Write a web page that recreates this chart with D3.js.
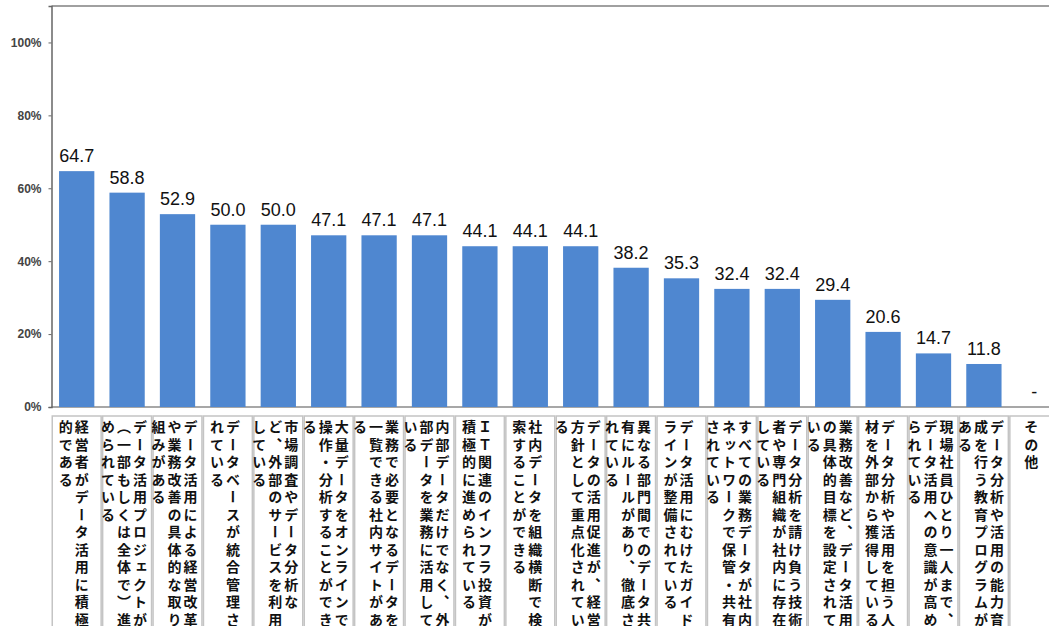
<!DOCTYPE html>
<meta charset="utf-8">
<script src="https://cdn.jsdelivr.net/npm/d3@7"></script>
<style>
body { margin:0; background:#fff; overflow:hidden; }
</style>
<svg width="1049" height="626"></svg>
<script>
// data
var categories = [
    "経営者がデータ活用に積極的である",
    "データ活用プロジェクトが（一部もしくは全体で）進められている",
    "データ活用による経営改革や業務改善の具体的な取り組みがある",
    "データベースが統合管理されている",
    "市場調査やデータ分析など、外部のサービスを利用している",
    "大量データをオンラインで操作・分析することができる",
    "業務で必要となるデータを一覧できる社内サイトがある",
    "内部データだけでなく、外部データを業務に活用している",
    "ＩＴ関連のインフラ投資が積極的に進められている",
    "社内データを組織横断で検索することができる",
    "データの活用促進が、経営方針として重点化されている",
    "異なる部門間でのデータ共有にルールがあり、徹底されている",
    "データ活用にむけたガイドラインが整備されている",
    "すべての業務データが社内ネットワークで保管・共有されている",
    "データ分析を請け負う技術者や専門組織が社内に存在している",
    "業務改善など、データ活用の具体的目標を設定されている",
    "データ分析や活用を担う人材を外部から獲得している",
    "現場社員ひとり一人まで、データ活用への意識が高められている",
    "データ分析や活用の能力育成を行う教育プログラムがある",
    "その他"
];
var values = [64.7, 58.8, 52.9, 50.0, 50.0, 47.1, 47.1, 47.1, 44.1, 44.1,
              44.1, 38.2, 35.3, 32.4, 32.4, 29.4, 20.6, 14.7, 11.8, null];
var yTicks = [0, 20, 40, 60, 80, 100];

var svg = d3.select("svg");
var rows = categories.map(function(c, i) { return { name: c, value: values[i] }; });

var x = d3.scaleBand()
    .domain(categories)
    .range([51.5, 1059.5])
    .paddingInner(0.3)
    .paddingOuter(0.15);
var y = d3.scaleLinear().domain([0, 110]).range([407, 6]);

// frame
svg.append("line")
    .attr("x1", 51.5).attr("x2", 1049).attr("y1", 6).attr("y2", 6)
    .attr("stroke", "#a0a0a0").attr("stroke-width", 2);
svg.append("line")
    .attr("x1", 51.5).attr("x2", 1049).attr("y1", y(0)).attr("y2", y(0))
    .attr("stroke", "#8a8a8a").attr("stroke-width", 1.5);

var yAxis = svg.append("g")
    .attr("transform", "translate(51.5,0)")
    .call(d3.axisLeft(y).tickValues(yTicks).tickSize(3).tickFormat(function(d) { return d + "%"; }));
yAxis.select(".domain").attr("stroke", "#666").attr("stroke-width", 1.5);
yAxis.selectAll(".tick line").attr("stroke", "#666");
yAxis.selectAll(".tick text")
    .attr("x", -10)
    .attr("font-family", "Liberation Sans, Arial, sans-serif")
    .attr("font-size", 12)
    .attr("font-weight", "bold")
    .attr("fill", "#444");

// bars
svg.append("g").selectAll("rect")
    .data(rows.filter(function(d) { return d.value != null; }))
    .enter().append("rect")
    .attr("x", function(d) { return x(d.name); })
    .attr("width", x.bandwidth())
    .attr("y", function(d) { return y(d.value); })
    .attr("height", function(d) { return y(0) - y(d.value); })
    .attr("fill", "#4f87d0");

svg.append("g").selectAll("text")
    .data(rows)
    .enter().append("text")
    .attr("x", function(d) { return x(d.name) + x.bandwidth() / 2; })
    .attr("y", function(d) { return y(d.value == null ? 0 : d.value) - 9; })
    .attr("text-anchor", "middle")
    .attr("font-family", "Liberation Sans, Arial, sans-serif")
    .attr("font-size", 18)
    .attr("fill", "#111")
    .text(function(d) { return d.value == null ? "-" : d3.format(".1f")(d.value); });

// label cells
var step = x.step();
function cellLeft(d) { return x(d.name) - (step - x.bandwidth()) / 2; }

// split a label into vertical columns of 12 chars, not starting a column with punctuation
function splitCols(s) {
    var chars = Array.from(s), cols = [], i = 0;
    while (i < chars.length) {
        var n = 12;
        if (i + n < chars.length && "、。）".indexOf(chars[i + n]) > -1) n -= 1;
        cols.push(chars.slice(i, i + n).join(""));
        i += n;
    }
    return cols;
}

var cells = svg.append("g").selectAll("g")
    .data(rows)
    .enter().append("g");

cells.append("rect")
    .attr("x", function(d) { return cellLeft(d) + 0.75; })
    .attr("y", 416)
    .attr("width", step - 1.5)
    .attr("height", 240)
    .attr("fill", "none")
    .attr("stroke", "#c4c4c4")
    .attr("stroke-width", 1.5);

var colGap = 16;
cells.each(function(d) {
    var cols = splitCols(d.name);
    var cx = x(d.name) + x.bandwidth() / 2 - 3;
    d3.select(this).selectAll("text")
        .data(cols)
        .enter().append("text")
        .attr("x", function(c, j) { return cx + (cols.length - 1) / 2 * colGap - j * colGap; })
        .attr("y", 420)
        .style("writing-mode", "vertical-rl")
        .attr("font-family", "Noto Sans CJK JP, sans-serif")
        .attr("font-size", 14)
        .attr("font-weight", "bold")
        .attr("letter-spacing", 3.5)
        .attr("fill", "#111")
        .text(function(c) { return c; });
});
</script>
